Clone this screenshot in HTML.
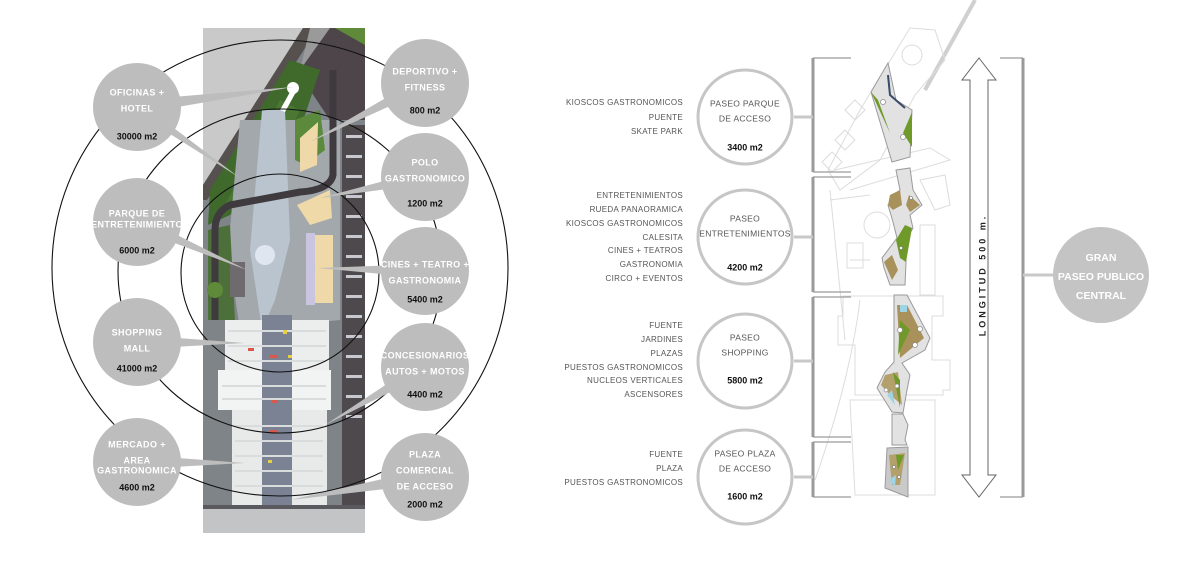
<!DOCTYPE html>
<html><head><meta charset="utf-8"><style>
html,body{margin:0;padding:0;background:#fff;}
svg{display:block;}
.cl{font-family:"Liberation Sans",sans-serif;font-weight:bold;font-size:9px;fill:#fff;text-anchor:middle;dominant-baseline:middle;letter-spacing:0.4px}
.cm{font-family:"Liberation Sans",sans-serif;font-weight:bold;font-size:9px;fill:#111;text-anchor:middle;dominant-baseline:middle}
.ls{font-family:"Liberation Sans",sans-serif;font-size:8px;fill:#555;text-anchor:end;dominant-baseline:middle;letter-spacing:0.3px}
.rl{font-family:"Liberation Sans",sans-serif;font-size:8.5px;fill:#555;text-anchor:middle;dominant-baseline:middle;letter-spacing:0.3px}
.rm{font-family:"Liberation Sans",sans-serif;font-weight:bold;font-size:9px;fill:#111;text-anchor:middle;dominant-baseline:middle}
</style></head><body>
<svg width="1200" height="571" viewBox="0 0 1200 571" xmlns="http://www.w3.org/2000/svg">
<rect width="1200" height="571" fill="#fff"/>
<g>
<rect x="203" y="28" width="162" height="505" fill="#7f8488"/>
<polygon points="203,28 303,28 203,185" fill="#c9c9c9"/>
<polygon points="303,28 318,28 207,200 203,200 203,185" fill="#56504f"/>
<polygon points="318,28 365,28 365,120 330,120 300,75" fill="#4d4549"/>
<polygon points="335,28 365,28 365,45" fill="#5e8a3a"/>
<polygon points="310,28 330,28 300,70" fill="#9a9a9a"/>
<polygon points="210,190 290,60 320,70 300,130 260,180 230,215 208,225" fill="#3f6a2c"/>
<polygon points="225,205 280,100 300,110 270,170" fill="#4a7834"/>
<polygon points="240,120 340,120 340,320 240,330 228,250" fill="#a3a8ad"/>
<polygon points="262,110 285,110 290,240 275,300 262,330 250,250" fill="#bac4ce"/>
<polygon points="208,230 230,225 235,320 208,320" fill="#4d6f3a"/>
<rect x="342" y="125" width="23" height="385" fill="#4e494c"/>
<g fill="#c8c8d0">
<rect x="346" y="135" width="16" height="3"/><rect x="346" y="155" width="16" height="3"/><rect x="346" y="175" width="16" height="3"/><rect x="346" y="195" width="16" height="3"/><rect x="346" y="215" width="16" height="3"/><rect x="346" y="235" width="16" height="3"/><rect x="346" y="255" width="16" height="3"/><rect x="346" y="275" width="16" height="3"/><rect x="346" y="295" width="16" height="3"/><rect x="346" y="315" width="16" height="3"/><rect x="346" y="335" width="16" height="3"/><rect x="346" y="355" width="16" height="3"/><rect x="346" y="375" width="16" height="3"/><rect x="346" y="395" width="16" height="3"/><rect x="346" y="415" width="16" height="3"/>
</g>
<path d="M333,70 L333,175 Q330,190 300,192 L230,205 Q215,212 215,230 L215,320" stroke="#3e3a3e" stroke-width="7" fill="none"/>
<polygon points="295,120 320,110 325,150 305,165 295,160" fill="#5b8a3c"/>
<polygon points="300,138 318,122 317,165 300,172" fill="#efd9a8"/>
<polygon points="297,205 330,190 332,218 310,225" fill="#efd9a8"/>
<rect x="306" y="233" width="9" height="72" fill="#c9c4e0"/>
<rect x="315" y="235" width="18" height="68" fill="#efd9a8"/>
<circle cx="293" cy="88" r="6" fill="#fff"/>
<polygon points="290,92 296,92 285,112 280,110" fill="#fff"/>
<circle cx="265" cy="255" r="10" fill="#dfe6ef"/>
<rect x="230" y="262" width="15" height="35" fill="#6e6a6e"/>
<circle cx="215" cy="290" r="8" fill="#5e8a3a"/>
<rect x="225" y="320" width="104" height="50" fill="#eceeee"/>
<rect x="218" y="370" width="113" height="40" fill="#f2f3f3"/>
<rect x="232" y="410" width="95" height="98" fill="#e8eaea"/>
<rect x="262" y="315" width="30" height="195" fill="#7a8294"/>
<g fill="#d9dcdc"><rect x="228" y="330" width="98" height="2"/><rect x="228" y="345" width="98" height="2"/><rect x="228" y="360" width="98" height="2"/><rect x="222" y="385" width="104" height="2"/><rect x="222" y="398" width="104" height="2"/><rect x="235" y="425" width="88" height="2"/><rect x="235" y="440" width="88" height="2"/><rect x="235" y="455" width="88" height="2"/><rect x="235" y="470" width="88" height="2"/><rect x="235" y="485" width="88" height="2"/></g>
<g fill="#d8584c"><rect x="248" y="348" width="6" height="3"/><rect x="270" y="355" width="8" height="3"/><rect x="272" y="400" width="6" height="3"/><rect x="270" y="430" width="8" height="3"/></g>
<g fill="#e8d040"><rect x="283" y="330" width="4" height="4"/><rect x="288" y="355" width="4" height="3"/><rect x="268" y="460" width="4" height="3"/></g>
<rect x="203" y="508" width="162" height="25" fill="#c2c4c6"/>
<rect x="203" y="505" width="162" height="4" fill="#5a5a5e"/>
</g>
<g fill="none" stroke="#111" stroke-width="1.1">
<circle cx="280" cy="268" r="228"/>
<circle cx="280" cy="271" r="162"/>
<circle cx="280" cy="273" r="99"/>
</g>
<g fill="#bdbdbd">
<polygon points="137,100 137,114 293,87"/>
<polygon points="132,110 142,104 240,178"/>
<polygon points="137,215 137,229 247,270"/>
<polygon points="137,335 137,349 245,343"/>
<polygon points="137,455 137,469 245,463"/>
<polygon points="420,78 430,88 310,142"/>
<polygon points="425,170 425,184 320,198"/>
<polygon points="425,264 425,278 318,268"/>
<polygon points="420,362 430,372 325,425"/>
<polygon points="422,470 428,484 290,500"/>
</g>
<g fill="#bdbdbd">
<circle cx="137" cy="107" r="44"/><circle cx="137" cy="222" r="44"/><circle cx="137" cy="342" r="44"/><circle cx="137" cy="462" r="44"/>
<circle cx="425" cy="83" r="44"/><circle cx="425" cy="177" r="44"/><circle cx="425" cy="271" r="44"/><circle cx="425" cy="367" r="44"/><circle cx="425" cy="477" r="44"/>
</g>
<text class="cl" x="137" y="93">OFICINAS +</text><text class="cl" x="137" y="109">HOTEL</text><text class="cm" x="137" y="137">30000 m2</text>
<text class="cl" x="137" y="214">PARQUE DE</text><text class="cl" x="137" y="225">ENTRETENIMIENTO</text><text class="cm" x="137" y="251">6000 m2</text>
<text class="cl" x="137" y="333">SHOPPING</text><text class="cl" x="137" y="349">MALL</text><text class="cm" x="137" y="369">41000 m2</text>
<text class="cl" x="137" y="445">MERCADO +</text><text class="cl" x="137" y="461">AREA</text><text class="cl" x="137" y="471">GASTRONOMICA</text><text class="cm" x="137" y="488">4600 m2</text>
<text class="cl" x="425" y="72">DEPORTIVO +</text><text class="cl" x="425" y="88">FITNESS</text><text class="cm" x="425" y="111">800 m2</text>
<text class="cl" x="425" y="163">POLO</text><text class="cl" x="425" y="179">GASTRONOMICO</text><text class="cm" x="425" y="204">1200 m2</text>
<text class="cl" x="425" y="265">CINES + TEATRO +</text><text class="cl" x="425" y="281">GASTRONOMIA</text><text class="cm" x="425" y="300">5400 m2</text>
<text class="cl" x="425" y="356">CONCESIONARIOS</text><text class="cl" x="425" y="372">AUTOS + MOTOS</text><text class="cm" x="425" y="395">4400 m2</text>
<text class="cl" x="425" y="455">PLAZA</text><text class="cl" x="425" y="471">COMERCIAL</text><text class="cl" x="425" y="487">DE ACCESO</text><text class="cm" x="425" y="505">2000 m2</text>

<g fill="none" stroke="#dcdcdc" stroke-width="1">
<path d="M975,0 L925,90" stroke="#d0d0d0" stroke-width="4"/>
<path d="M910,28 L935,30 L945,60 L915,95 L880,160 L840,190 L828,170 L860,110 Z"/>
<circle cx="912" cy="55" r="10"/>
<path d="M845,110 l10,-10 l10,10 l-10,10 z M835,140 l10,-10 l10,10 l-10,10 z M822,162 l10,-10 l10,10 l-10,10 z"/>
<path d="M835,170 L930,148 L950,160 L850,190"/>
<path d="M920,180 L945,175 L950,205 L935,210 Z"/>
<path d="M830,190 L845,340 M850,260 L870,260 M830,200 L870,195"/>
<circle cx="877" cy="225" r="13"/>
<rect x="847" y="243" width="16" height="25"/>
<rect x="920" y="225" width="15" height="70"/>
<path d="M843,296 L943,296 L943,316 L932,316 L932,360 L950,360 L950,390 L943,390 L943,395 L855,395 L855,345 L838,345 L838,316 L843,316 Z"/>
<path d="M850,400 L935,400 L935,495 L855,495 Z"/>
<path d="M815,480 Q850,380 860,300" />
</g>
<g stroke="#9a9a9a" stroke-width="1">
<polygon points="888,63 871,92 892,162 910,157 912,110 896,100" fill="#e2e2e2"/>
<polygon points="871,92 890,133 878,100" fill="#6f9a2a" stroke="none"/>
<polygon points="912,112 903,133 912,147" fill="#6f9a2a" stroke="none"/>
<path d="M888,75 L890,95 L905,108" stroke="#3a4a6a" stroke-width="2" fill="none"/>
<polygon points="896,170 910,168 913,190 922,205 910,215 913,228 906,240 906,262 905,285 890,285 884,268 882,258 897,238 893,222 888,205 900,190" fill="#e2e2e2"/>
<polygon points="890,195 900,190 902,205 893,210 888,205" fill="#a8915a" stroke="none"/>
<polygon points="909,195 920,205 910,212 906,205" fill="#a8915a" stroke="none"/>
<polygon points="905,225 912,228 906,262 900,258 896,240" fill="#6f9a2a" stroke="none"/>
<polygon points="884,262 892,255 898,270 892,280" fill="#a8915a" stroke="none"/>
<polygon points="894,295 907,295 930,338 925,350 902,363 910,375 907,390 903,413 892,412 877,388 885,372 894,362" fill="#e2e2e2"/>
<polygon points="897,305 907,305 924,338 900,358" fill="#a8915a" stroke="none"/>
<polygon points="900,320 910,330 898,355" fill="#6f9a2a" stroke="none"/>
<rect x="900" y="305" width="7" height="7" fill="#9fd3e6" stroke="none"/>
<polygon points="885,375 898,372 902,405 890,395 881,385" fill="#b3a06a" stroke="none"/>
<polygon points="893,372 900,380 900,408" fill="#6f9a2a" stroke="none"/>
<polygon points="887,395 892,390 895,405" fill="#9fd3e6" stroke="none"/>
<polygon points="892,414 903,414 908,425 905,440 907,445 892,445" fill="#e2e2e2"/>
<polygon points="887,448 908,447 908,497 885,488" fill="#c9c9c9"/>
<polygon points="889,455 905,453 900,485 892,485" fill="#b3a06a" stroke="none"/>
<polygon points="896,455 904,455 898,470" fill="#6f9a2a" stroke="none"/>
<polygon points="889,480 896,475 895,487" fill="#9fd3e6" stroke="none"/>
</g>
<g fill="#fff" stroke="#888" stroke-width="0.7">
<circle cx="883" cy="102" r="2.5"/><circle cx="903" cy="137" r="2.5"/><circle cx="911" cy="198" r="1.5"/><circle cx="901" cy="248" r="1.5"/>
<circle cx="900" cy="330" r="2.5"/><circle cx="920" cy="329" r="2.5"/><circle cx="915" cy="345" r="2.5"/><circle cx="886" cy="390" r="2"/><circle cx="897" cy="386" r="2"/><circle cx="894" cy="467" r="1.5"/><circle cx="899" cy="477" r="1.5"/>
</g>
<g stroke="#9a9a9a" stroke-width="3" fill="none">
<path d="M813,58 L813,172 M813,177 L813,292 M813,297 L813,437 M813,442 L813,497"/>
</g>
<g stroke="#9a9a9a" stroke-width="1.2">
<path d="M813,58 L851,58 M813,172 L851,172 M813,177 L851,177 M813,292 L851,292 M813,297 L851,297 M813,437 L851,437 M813,442 L851,442 M813,497 L851,497"/>
</g>
<g stroke="#c8c8c8" stroke-width="3">
<path d="M794,117 L813,117 M794,237 L813,237 M794,361 L813,361 M794,477 L813,477"/>
</g>
<g fill="#fff" stroke="#c6c6c6" stroke-width="3">
<circle cx="745" cy="117" r="47"/><circle cx="745" cy="237" r="47"/><circle cx="745" cy="361" r="47"/><circle cx="745" cy="477" r="47"/>
</g>
<text class="rl" x="745" y="104">PASEO PARQUE</text><text class="rl" x="745" y="119">DE ACCESO</text><text class="rm" x="745" y="148">3400 m2</text>
<text class="rl" x="745" y="219">PASEO</text><text class="rl" x="745" y="234">ENTRETENIMIENTOS</text><text class="rm" x="745" y="268">4200 m2</text>
<text class="rl" x="745" y="338">PASEO</text><text class="rl" x="745" y="353">SHOPPING</text><text class="rm" x="745" y="381">5800 m2</text>
<text class="rl" x="745" y="454">PASEO PLAZA</text><text class="rl" x="745" y="469">DE ACCESO</text><text class="rm" x="745" y="497">1600 m2</text>
<text class="ls" x="683" y="103">KIOSCOS GASTRONOMICOS</text><text class="ls" x="683" y="118">PUENTE</text><text class="ls" x="683" y="132">SKATE PARK</text>
<text class="ls" x="683" y="196">ENTRETENIMIENTOS</text><text class="ls" x="683" y="210">RUEDA PANAORAMICA</text><text class="ls" x="683" y="224">KIOSCOS GASTRONOMICOS</text><text class="ls" x="683" y="238">CALESITA</text><text class="ls" x="683" y="251">CINES + TEATROS</text><text class="ls" x="683" y="265">GASTRONOMIA</text><text class="ls" x="683" y="279">CIRCO + EVENTOS</text>
<text class="ls" x="683" y="326">FUENTE</text><text class="ls" x="683" y="340">JARDINES</text><text class="ls" x="683" y="354">PLAZAS</text><text class="ls" x="683" y="368">PUESTOS GASTRONOMICOS</text><text class="ls" x="683" y="381">NUCLEOS VERTICALES</text><text class="ls" x="683" y="395">ASCENSORES</text>
<text class="ls" x="683" y="455">FUENTE</text><text class="ls" x="683" y="469">PLAZA</text><text class="ls" x="683" y="483">PUESTOS GASTRONOMICOS</text>
<polygon points="979,58 996,80 988,80 988,475 996,475 979,497 962,475 970,475 970,80 962,80" fill="#fff" stroke="#666" stroke-width="1"/>
<text x="983" y="275" transform="rotate(-90 983 275)" font-family="Liberation Sans, sans-serif" font-weight="bold" font-size="9" fill="#222" text-anchor="middle" dominant-baseline="middle" letter-spacing="3">LONGITUD   500 m.</text>
<g stroke="#9a9a9a" fill="none">
<path d="M1023,58 L1023,497" stroke-width="3"/>
<path d="M1000,58 L1023,58 M1000,497 L1023,497" stroke-width="1.2"/>
<path d="M1023,275 L1056,275" stroke="#c8c8c8" stroke-width="3"/>
</g>
<circle cx="1101" cy="275" r="48" fill="#c4c4c4"/>
<g font-family="Liberation Sans, sans-serif" font-weight="bold" font-size="10.5" fill="#fff" text-anchor="middle" dominant-baseline="middle">
<text x="1101" y="258">GRAN</text><text x="1101" y="277">PASEO PUBLICO</text><text x="1101" y="296">CENTRAL</text>
</g>
</svg>
</body></html>
